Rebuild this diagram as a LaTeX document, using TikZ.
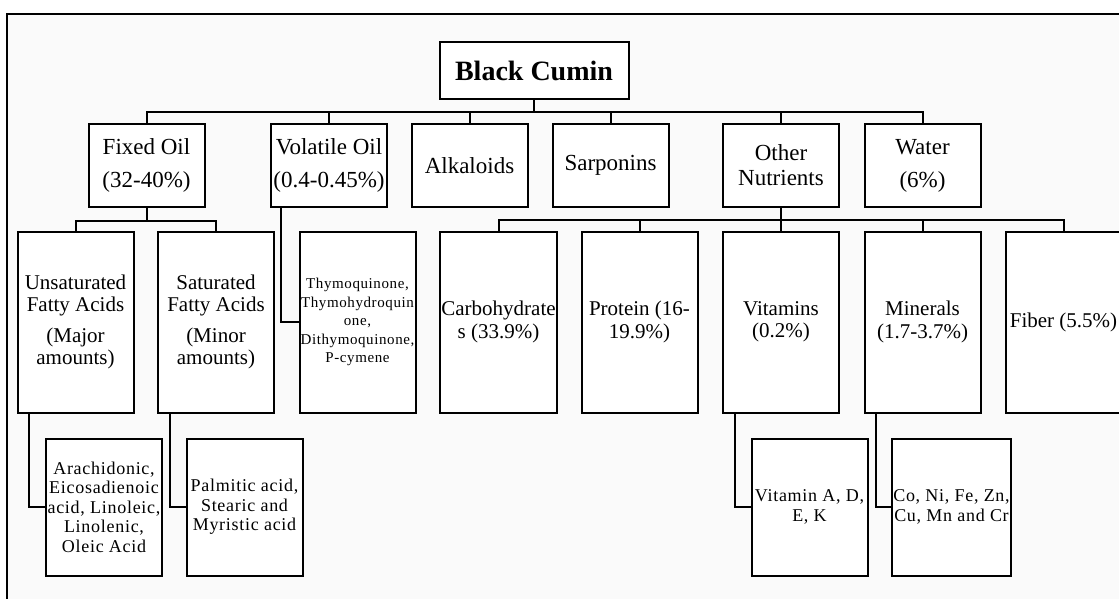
\documentclass[tikz,border=0pt]{standalone}
\usepackage{fontspec}
\setmainfont{Liberation Serif}
\newfontfamily\spacedserif[LetterSpace=4]{Liberation Serif}
\definecolor{pagegrey}{RGB}{250,250,250}
\begin{document}
\begin{tikzpicture}[x=1pt,y=-1pt,
    box/.style={draw,line width=2pt,fill=white,align=center,inner sep=1pt},
    rootbox/.style={box,minimum width=189pt,minimum height=57pt,font=\bfseries\fontsize{28}{30}\selectfont},
    toprow/.style={box,minimum width=116pt,minimum height=82pt,font=\fontsize{23}{25}\selectfont},
    midrow/.style={box,minimum width=116pt,minimum height=181pt,font=\fontsize{21}{22.5}\selectfont},
    lowrow/.style={box,minimum width=116pt,minimum height=137pt,font=\spacedserif\fontsize{18}{19.5}\selectfont},
    link/.style={line width=2pt}]
\useasboundingbox (0,0) rectangle (1119,599);
% page frame
\fill[pagegrey] (7,14) rectangle (1119,599);
\draw[link] (7,600) -- (7,14) -- (1120,14);

\node[rootbox] (bc) at (534,71) {Black Cumin};

% first level
\node[toprow] (fixed) at (146.5,165.5) {Fixed Oil\\[8pt](32-40\%)};
\node[toprow] (vol) at (329,165.5) {Volatile Oil\\[8pt](0.4-0.45\%)};
\node[toprow] (alk) at (469.5,165.5) {Alkaloids};
\node[toprow] (sarp) at (610.5,165.5) {Sarponins};
\node[toprow] (other) at (781,165.5) {Other\\Nutrients};
\node[toprow] (water) at (922.5,165.5) {Water\\[8pt](6\%)};

% second level
\node[midrow] (unsat) at (75.5,322) {Unsaturated\\Fatty Acids\\[8pt](Major\\amounts)};
\node[midrow] (sat) at (216,322) {Saturated\\Fatty Acids\\[8pt](Minor\\amounts)};
\node[midrow,font=\spacedserif\fontsize{15}{18.5}\selectfont] (thymo) at (357.5,322)
    {Thymoquinone,\\Thymohydroquin\\one,\\Dithymoquinone,\\P-cymene};
\node[midrow] (carbo) at (498.5,322) {Carbohydrate\\s (33.9\%)};
\node[midrow] (prot) at (639.5,322) {Protein (16-\\19.9\%)};
\node[midrow] (vit) at (781,322) {Vitamins\\(0.2\%)};
\node[midrow] (minr) at (922.5,322) {Minerals\\(1.7-3.7\%)};
\node[midrow] (fiber) at (1063.5,322) {Fiber (5.5\%)};

% third level
\node[lowrow] (arach) at (104,507) {Arachidonic,\\Eicosadienoic\\acid, Linoleic,\\Linolenic,\\Oleic Acid};
\node[lowrow] (palm) at (244.5,507) {Palmitic acid,\\Stearic and\\Myristic acid};
\node[lowrow] (vita) at (809.5,507) {Vitamin A, D,\\E, K};
\node[lowrow] (metals) at (951.5,507) {Co, Ni, Fe, Zn,\\Cu, Mn and Cr};

% connectors
\foreach \n in {fixed,vol,alk,sarp,other,water}
  \draw[link] (bc.south) -- ++(0,12) -| (\n.north);
\foreach \n in {unsat,sat}
  \draw[link] (fixed.south) -- ++(0,13) -| (\n.north);
\foreach \n in {carbo,prot,vit,minr,fiber}
  \draw[link] (other.south) -- ++(0,12) -| (\n.north);
\draw[link] ([xshift=11pt]vol.south west) |- (thymo.west);
\draw[link] ([xshift=12pt]unsat.south west) |- (arach.west);
\draw[link] ([xshift=13pt]sat.south west) |- (palm.west);
\draw[link] ([xshift=13pt]vit.south west) |- (vita.west);
\draw[link] ([xshift=12pt]minr.south west) |- (metals.west);
\end{tikzpicture}
\end{document}
